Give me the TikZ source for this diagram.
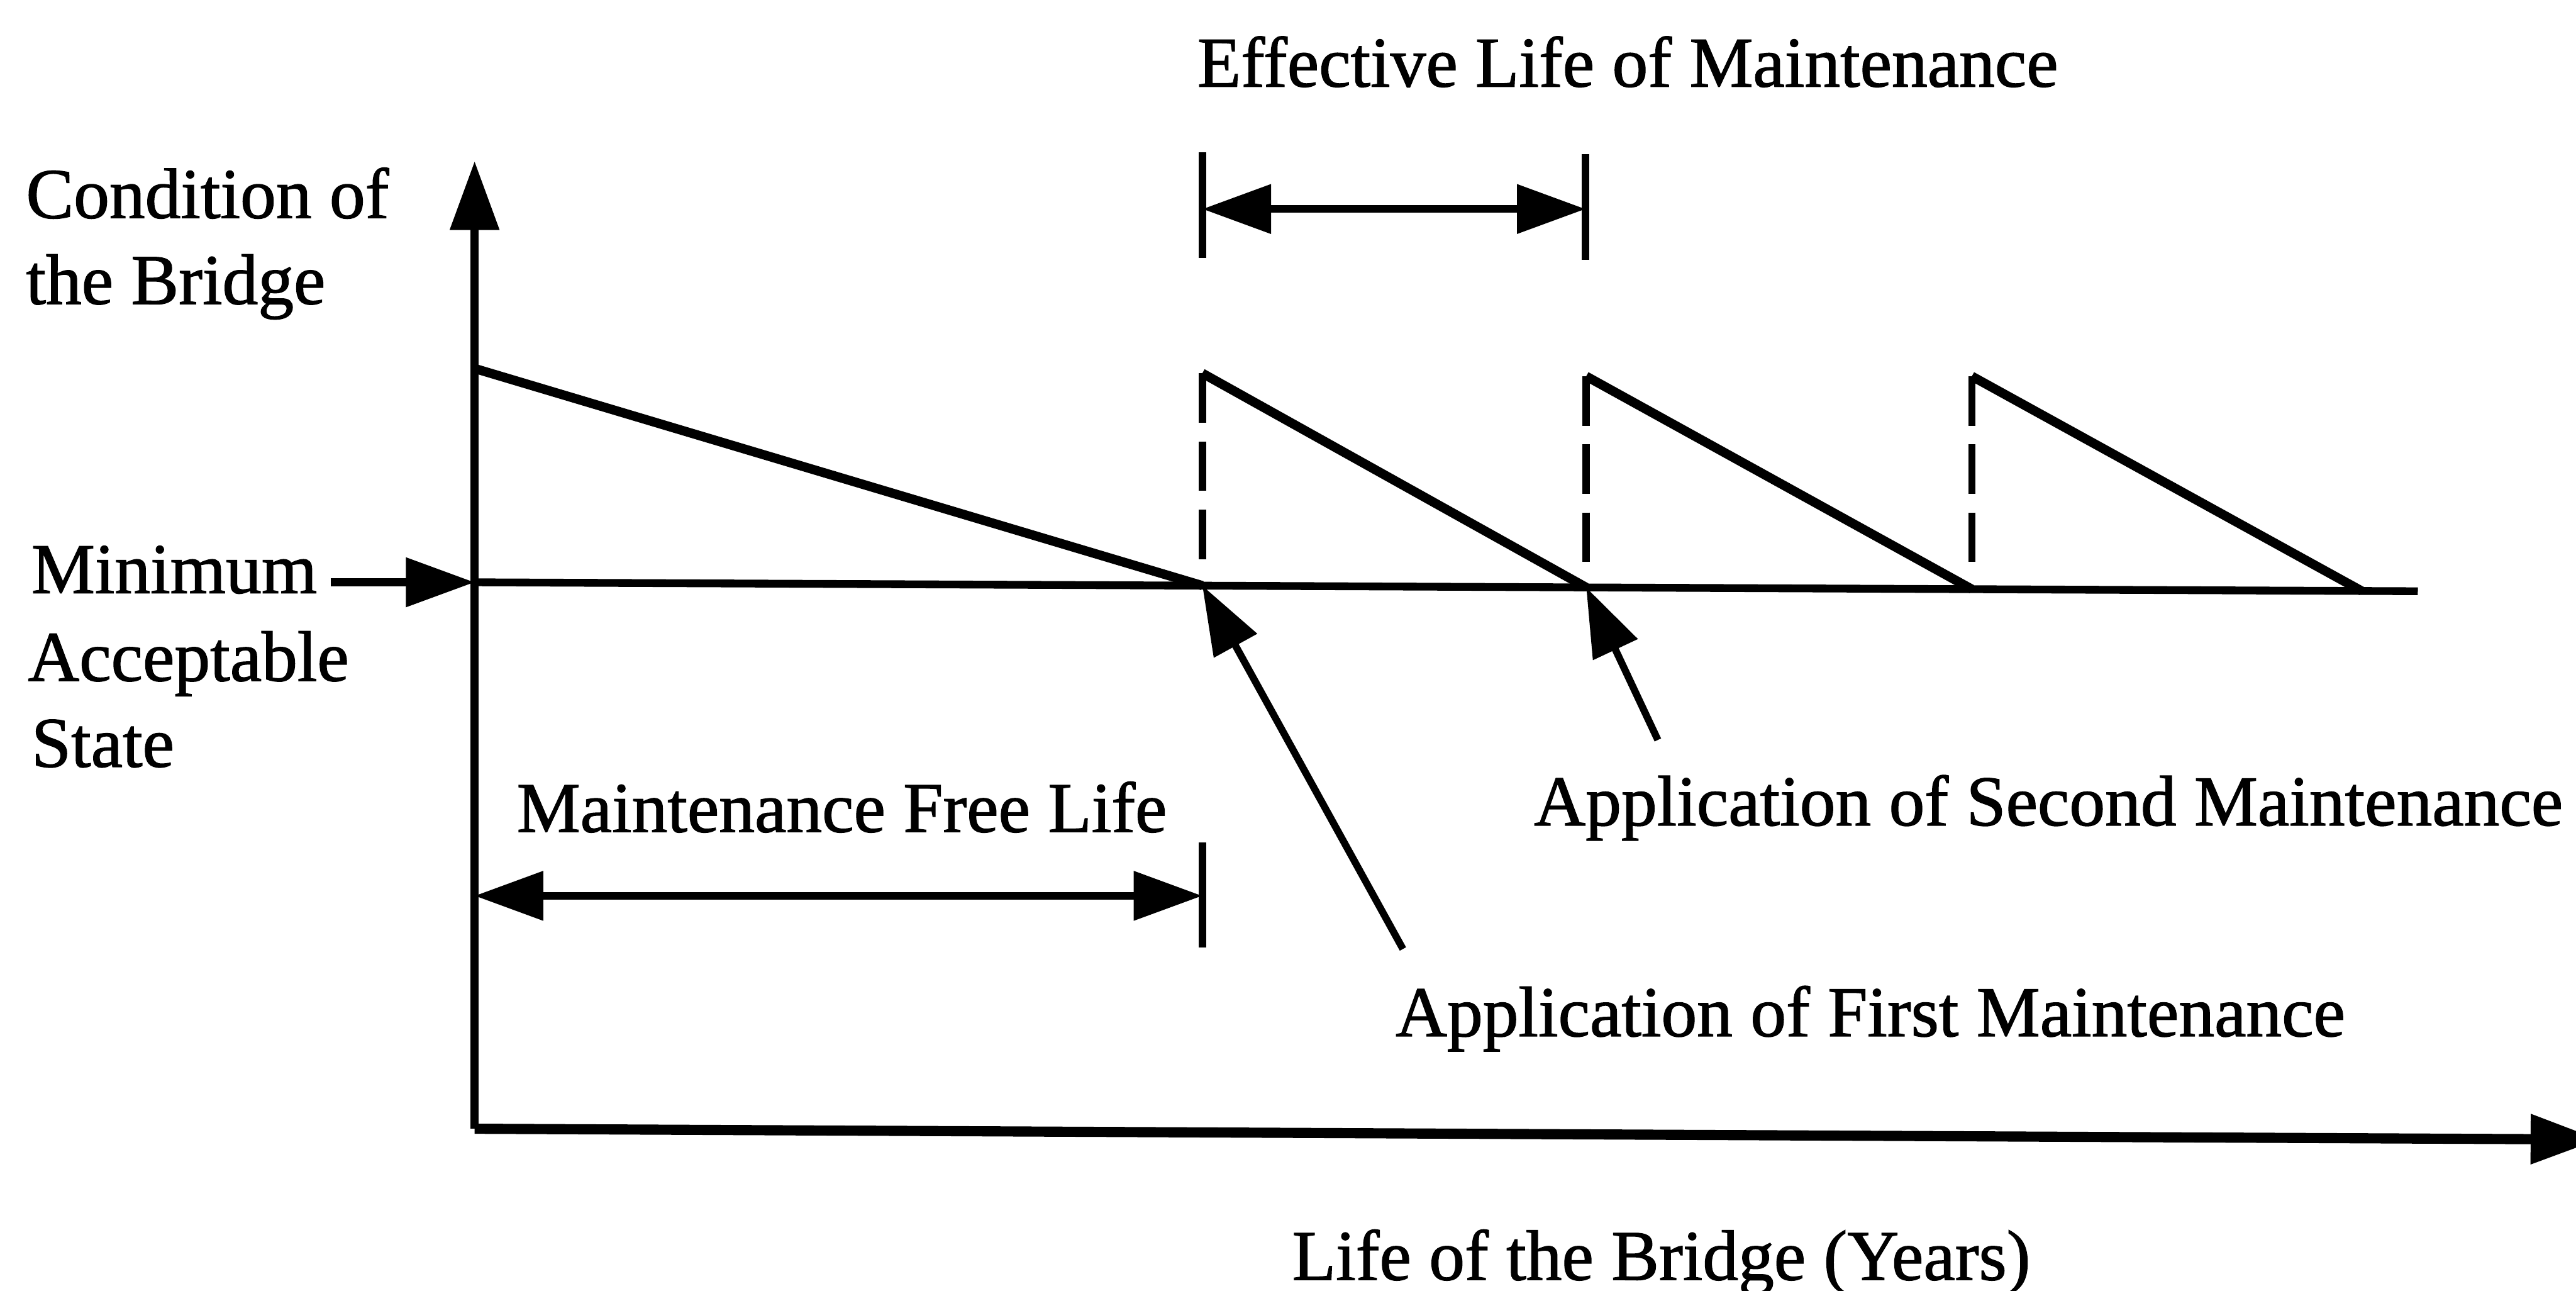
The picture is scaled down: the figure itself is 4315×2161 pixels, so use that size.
\documentclass[tikz,border=0pt]{standalone}
\usepackage{fontspec}
\setmainfont{Liberation Serif}[FakeBold=1.2]
\usetikzlibrary{arrows.meta}
\begin{document}
\begin{tikzpicture}[x=0.01cm,y=-0.01cm,
  lbl/.style={anchor=base west,inner sep=0pt,font=\fontsize{34}{41}\selectfont},
  axisline/.style={line width=0.13cm},
  xaxisline/.style={line width=0.17cm},
  curve/.style={line width=0.155cm,line join=miter,line cap=butt},
  guide/.style={line width=0.12cm,dash pattern=on 0.83cm off 0.31cm},
  tickline/.style={line width=0.13cm},
  pointer/.style={line width=0.12cm},
  headend/.style={-{Triangle[length=1.15cm,width=0.8cm]}},
  headboth/.style={{Triangle[length=1.15cm,width=0.8cm]}-{Triangle[length=1.15cm,width=0.8cm]}}]
\useasboundingbox (0,0) rectangle (4315,2161);
\clip (0,0) rectangle (4315,2161);

% axes
\coordinate (O) at (795,1890);
\coordinate (Ytop) at (795,270);
\coordinate (Xend) at (4354,1908);
\draw[axisline,headend] (O) -- (Ytop);
\draw[xaxisline,headend] (O) -- (Xend);

% minimum acceptable state and the condition profile
\coordinate (M0) at (795,975);
\coordinate (M1) at (2014,980.6);
\coordinate (M2) at (2657,983.6);
\coordinate (M3) at (3303,986.6);
\coordinate (M4) at (3956,989.6);
\coordinate (Mend) at (4050,990);
\coordinate (C0) at (795,617);
\coordinate (T1) at (2014,625);
\coordinate (T2) at (2657,630);
\coordinate (T3) at (3303,630);
\coordinate (D1) at (2014,940);
\coordinate (D2) at (2657,944);
\coordinate (D3) at (3303,946);

\draw[axisline] (M0) -- (Mend);
\draw[curve] (C0) -- (M1);
\draw[curve] (T1) -- (M2);
\draw[curve] (T2) -- (M3);
\draw[curve] (T3) -- (M4);
\draw[guide] (T1) -- (D1);
\draw[guide] (T2) -- (D2);
\draw[guide] (T3) -- (D3);

% labels
\node[lbl] (cond1) at (43,365) {Condition of};
\node[lbl] (cond2) at (43,509) {the Bridge};
\node[lbl] (min1) at (52,993) {Minimum};
\node[lbl] (min2) at (46,1140) {Acceptable};
\node[lbl] (min3) at (52,1284) {State};
\node[lbl] (mfl) at (865,1393) {Maintenance Free Life};
\node[lbl] (elm) at (2005,145) {Effective Life of Maintenance};
\node[lbl] (asm) at (2569,1382) {Application of Second Maintenance};
\node[lbl] (afm) at (2337,1735) {Application of First Maintenance};
\node[lbl] (life) at (2164,2143) {Life of the Bridge (Years)};

% minimum state pointer
\coordinate (MinStart) at (554,975);
\draw[axisline,headend] (MinStart) -- (M0);

% effective life of maintenance
\coordinate (E1a) at (2014,255);
\coordinate (E1b) at (2014,432);
\coordinate (E2a) at (2656,258);
\coordinate (E2b) at (2656,435);
\coordinate (EL) at (2014,350);
\coordinate (ER) at (2656,350);
\draw[tickline] (E1a) -- (E1b);
\draw[tickline] (E2a) -- (E2b);
\draw[axisline,headboth] (EL) -- (ER);

% maintenance free life
\coordinate (F1a) at (2014,1411);
\coordinate (F1b) at (2014,1587);
\coordinate (FL) at (795,1500);
\coordinate (FR) at (2014,1500);
\draw[tickline] (F1a) -- (F1b);
\draw[axisline,headboth] (FL) -- (FR);

% application pointers
\coordinate (P1) at (2350,1589);
\coordinate (P2) at (2777,1239);
\draw[pointer,headend] (P1) -- (M1);
\draw[pointer,headend] (P2) -- (M2);
\end{tikzpicture}
\end{document}
